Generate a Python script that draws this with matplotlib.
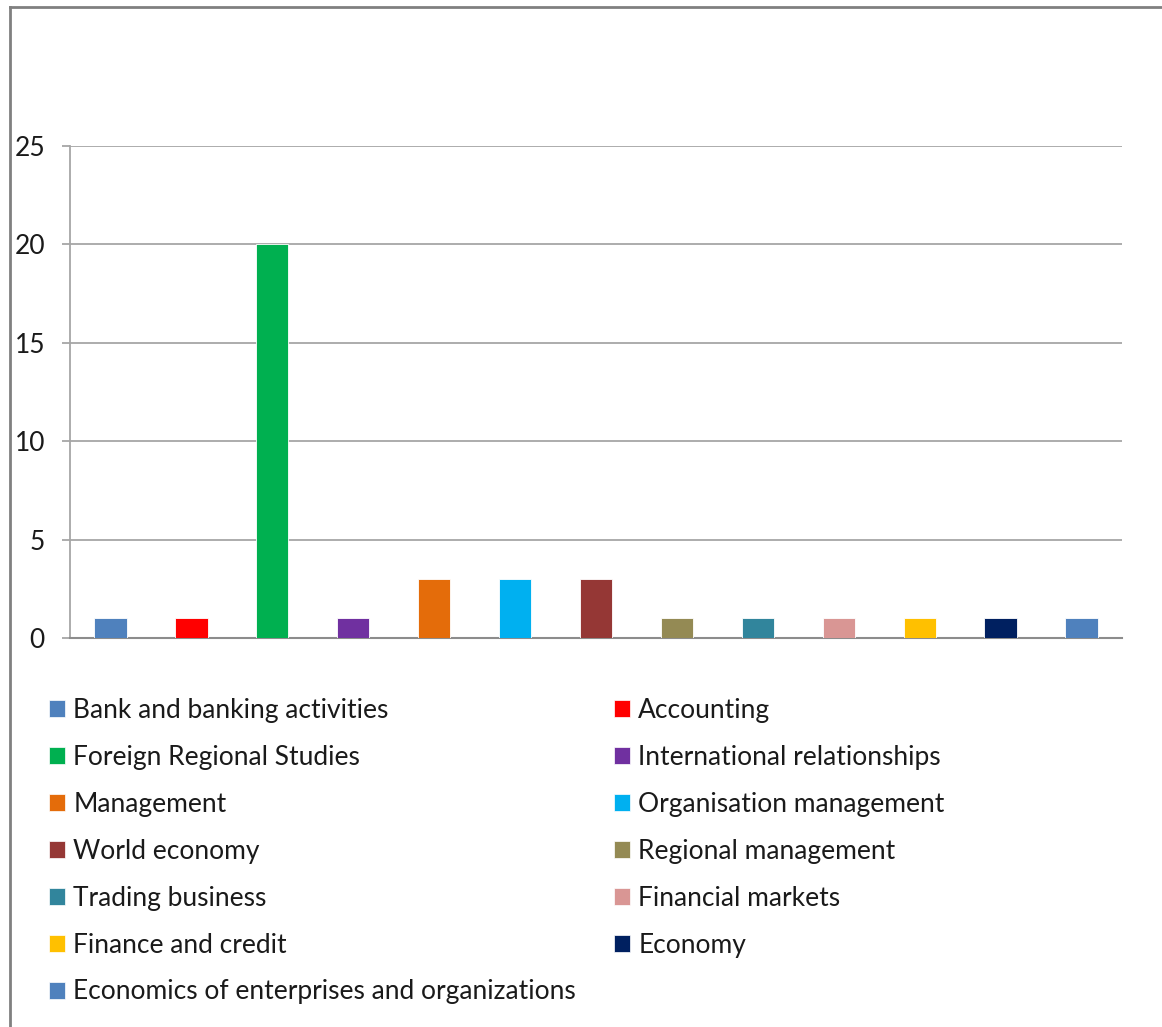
import matplotlib
matplotlib.use('Agg')
import matplotlib.pyplot as plt
from matplotlib.patches import Patch
from matplotlib.lines import Line2D

plt.rcParams['font.family'] = ['Lato', 'DejaVu Sans']

# data
programs = ['Bank and banking activities', 'Accounting', 'Foreign Regional Studies',
            'International relationships', 'Management', 'Organisation management',
            'World economy', 'Regional management', 'Trading business',
            'Financial markets', 'Finance and credit', 'Economy',
            'Economics of enterprises and organizations']
counts = [1, 1, 20, 1, 3, 3, 3, 1, 1, 1, 1, 1, 1]
colors = ['#4F81BD', '#FF0000', '#00B050', '#7030A0', '#E46C0A', '#00B0F0',
          '#953735', '#948A54', '#31859C', '#D99694', '#FFC000', '#002060', '#4F81BD']
yticks = [0, 5, 10, 15, 20, 25]

W, H = 1162, 1027
fig = plt.figure(figsize=(W / 100, H / 100), dpi=100)
ax = fig.add_axes([70 / W, (H - 638) / H, (1122 - 70) / W, (638 - 146) / H])

grid_col = '#A6A6A6'
x = list(range(len(programs)))
ax.bar(x, counts, width=0.4, color=colors, edgecolor='white', linewidth=0.6, zorder=3)

ax.set_xlim(-0.5, len(programs) - 0.5)
ax.set_ylim(0, 25)
ax.set_yticks(yticks)
ax.set_xticks([])
ax.yaxis.grid(True, color=grid_col, linewidth=1.3, zorder=0)
for s in ['top', 'right']:
    ax.spines[s].set_visible(False)
ax.spines['left'].set_color(grid_col)
ax.spines['bottom'].set_color('#8C8C8C')
ax.spines['left'].set_linewidth(1.3)
ax.spines['bottom'].set_linewidth(1.5)
ax.tick_params(axis='y', length=6, width=1.3, color=grid_col, pad=12,
               labelsize=19, labelcolor='#1a1a1a')

# legend in two columns, filled row by row
handles = [Patch(facecolor=c, edgecolor='white', linewidth=0.5) for c in colors]
leg_kw = dict(frameon=False, fontsize=19, handlelength=0.62, handleheight=0.62,
              handletextpad=0.3, labelspacing=0.83, borderpad=0, borderaxespad=0,
              labelcolor='#1a1a1a')
left_idx = list(range(0, len(programs), 2))
right_idx = list(range(1, len(programs), 2))
leg1 = fig.legend([handles[i] for i in left_idx], [programs[i] for i in left_idx],
                  loc='upper left', bbox_to_anchor=(49 / W, 1 - 698 / H), **leg_kw)
leg2 = fig.legend([handles[i] for i in right_idx], [programs[i] for i in right_idx],
                  loc='upper left', bbox_to_anchor=(614 / W, 1 - 698 / H), **leg_kw)

# chart frame (only top and left edges visible in the crop)
fig.add_artist(Line2D([10 / W, 10 / W], [0, 1 - 7 / H], color='#808080', linewidth=2))
fig.add_artist(Line2D([10 / W, 1], [1 - 7 / H, 1 - 7 / H], color='#808080', linewidth=2))

fig.savefig('out.png', dpi=100)
